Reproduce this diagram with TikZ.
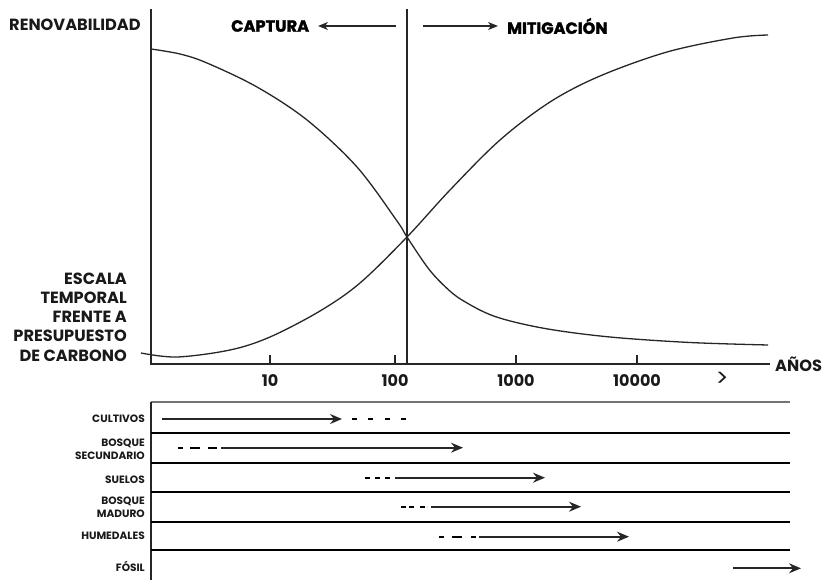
\documentclass[tikz,border=0pt]{standalone}
\usepackage{fontspec}
\setmainfont{Poppins}
\newfontfamily\headfont{Poppins}[FakeBold=1.8]
\usetikzlibrary{arrows.meta}
\tikzset{
  lbl/.style={font=\bfseries\fontsize{16.2}{19.2}\selectfont, inner sep=0pt, text=black!90},
  headlbl/.style={font=\headfont\bfseries\fontsize{16.2}{18}\selectfont, inner sep=0pt},
  ticklbl/.style={font=\bfseries\fontsize{16}{17}\selectfont, inner sep=0pt, text=black!90},
  rowlbl/.style={font=\bfseries\fontsize{10.6}{12.7}\selectfont, inner sep=0pt, align=right, anchor=east, text=black!90},
  axisline/.style={line width=1.5pt, black!85},
  curveline/.style={line width=1.3pt, black!85},
  rowline/.style={line width=2.2pt, black},
  topline/.style={line width=1.6pt, black!55},
  arr/.style={line width=1.7pt, black!85, -{Stealth[length=12pt,width=10pt,inset=4pt]}},
  toparr/.style={line width=1.3pt, black!85, -{Stealth[length=10pt,width=8pt,inset=3pt]}},
  dsh/.style={line width=2.2pt, black},
}
\begin{document}
\begin{tikzpicture}[x=1pt,y=-1pt]
\useasboundingbox (0,0) rectangle (824,580);

% labels top
\node[lbl, anchor=west] (renov) at (9,25) {RENOVABILIDAD};
\node[headlbl, anchor=west] (capt) at (231,26) {CAPTURA};
\node[headlbl, anchor=west] (miti) at (507,26) {MITIGACIÓN};
\coordinate (ca1) at (396,26); \coordinate (ca2) at (318,26);
\coordinate (ma1) at (423,26); \coordinate (ma2) at (498,26);
\draw[toparr] (ca1) -- (ca2);
\draw[toparr] (ma1) -- (ma2);

% axes
\coordinate (ytop) at (151,9);
\coordinate (O) at (151,364);
\coordinate (xend) at (770,364);
\draw[axisline] (ytop) -- (O) -- (xend);
\coordinate (dtop) at (407,9);
\coordinate (dbot) at (407,364);
\draw[axisline] (dtop) -- (dbot);
\node[lbl, anchor=west] (anos) at (775,364) {AÑOS};

% ticks
\foreach \x/\t/\n in {270/10/ta, 395/100/tb, 516/1000/tc, 637/10000/td}{
  \coordinate (\n1) at (\x,355);
  \coordinate (\n2) at (\x,364);
  \draw[axisline] (\n1) -- (\n2);
  \node[ticklbl] (\n l) at (\x,381) {\t};
}
\node[font=\fontsize{24}{24}\selectfont, inner sep=0pt, text=black!90] (gt) at (722,379) {>};

% left label
\node[lbl, align=right, anchor=east] (escala) at (127,317) {ESCALA\\TEMPORAL\\FRENTE A\\PRESUPUESTO\\DE CARBONO};

% curves
\draw[curveline] plot[smooth, tension=0.55] coordinates {
 (151,49) (180,54) (207,63) (257,87) (307,120) (357,167) (397,221) (407,237)
 (428,268) (445,286.5) (462,300) (495,316.5) (545,328.5) (610,337) (690,342.5) (768,345)};
\draw[curveline] plot[smooth, tension=0.55] coordinates {
 (141,353) (177,357) (230,350) (270,337) (320,311) (360,283) (407,237)
 (450,190) (500,140) (550,102) (600,76) (667,52) (733,38) (768,35)};

% table
\coordinate (t0l) at (151,402); \coordinate (t0r) at (790,402);
\draw[topline] (t0l) -- (t0r);
\coordinate (tb) at (151,580);
\draw[axisline] (t0l) -- (tb);
\foreach \y/\n in {432.7/r1, 462.7/r2, 491.7/r3, 521.7/r4, 550/r5}{
  \coordinate (\n l) at (151,\y); \coordinate (\n r) at (790,\y);
  \draw[rowline] (\n l) -- (\n r);
}

% row labels
\node[rowlbl] (cult) at (145,418.5) {CULTIVOS};
\node[rowlbl] (bsec) at (145,449.5) {BOSQUE\\SECUNDARIO};
\node[rowlbl] (suel) at (145,480) {SUELOS};
\node[rowlbl] (bmad) at (145,507.5) {BOSQUE\\MADURO};
\node[rowlbl] (hume) at (145,535.7) {HUMEDALES};
\node[rowlbl] (fosil) at (145,566.7) {FÓSIL};

% arrows
% CULTIVOS
\coordinate (c1) at (162,419); \coordinate (c2) at (342,419);
\draw[arr] (c1) -- (c2);
\coordinate (c3) at (352,419); \coordinate (c4) at (406,419);
\draw[dsh, dash pattern=on 5pt off 11.3pt] (c3) -- (c4);
% BOSQUE SECUNDARIO
\coordinate (s1) at (178,447.7); \coordinate (s2) at (217,447.7);
\draw[dsh, dash pattern=on 5pt off 7pt on 10pt off 8pt on 9pt off 50pt] (s1) -- (s2);
\coordinate (s3) at (221,447.7); \coordinate (s4) at (463,447.7);
\draw[arr] (s3) -- (s4);
% SUELOS
\coordinate (u1) at (365,477.7); \coordinate (u2) at (390,477.7);
\draw[dsh, dash pattern=on 5pt off 5pt] (u1) -- (u2);
\coordinate (u3) at (395,477.7); \coordinate (u4) at (545,477.7);
\draw[arr] (u3) -- (u4);
% BOSQUE MADURO
\coordinate (m1) at (401,506.7); \coordinate (m2) at (427,506.7);
\draw[dsh, dash pattern=on 5pt off 2.5pt on 5pt off 6pt] (m1) -- (m2);
\coordinate (m3) at (431,506.7); \coordinate (m4) at (581,506.7);
\draw[arr] (m3) -- (m4);
% HUMEDALES
\coordinate (h1) at (439,536.7); \coordinate (h2) at (476,536.7);
\draw[dsh, dash pattern=on 5pt off 8pt on 10pt off 9pt on 5pt off 50pt] (h1) -- (h2);
\coordinate (h3) at (479,536.7); \coordinate (h4) at (629,536.7);
\draw[arr] (h3) -- (h4);
% FOSIL
\coordinate (f1) at (733,568.3); \coordinate (f2) at (801,568.3);
\draw[arr] (f1) -- (f2);
\end{tikzpicture}
\end{document}
